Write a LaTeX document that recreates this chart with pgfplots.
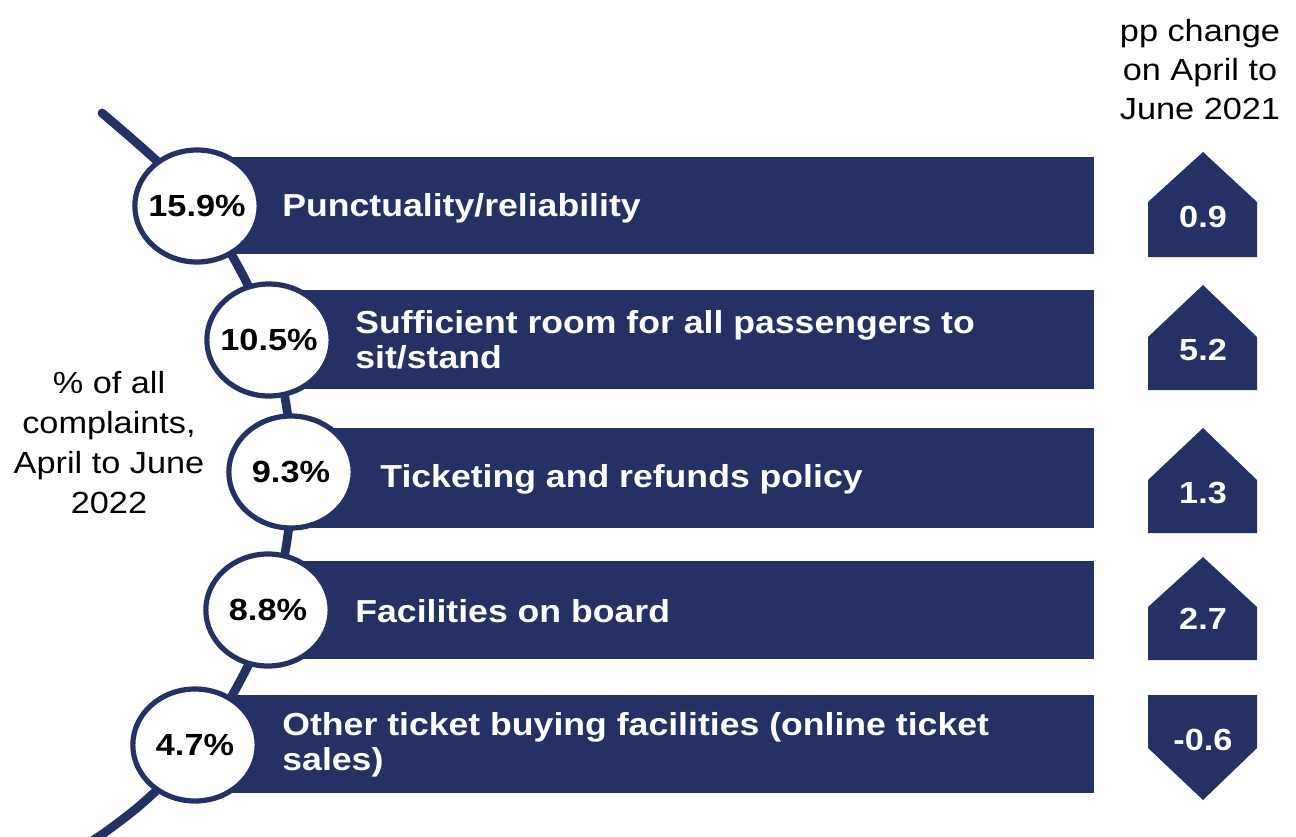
\documentclass[border=0pt]{standalone}
\usepackage{fontspec}
\setmainfont{Liberation Sans}[FakeStretch=1.12]
\usepackage{pgfplots}
\pgfplotsset{compat=1.18}
\definecolor{navy}{RGB}{37,49,101}
\begin{document}
\begin{tikzpicture}
\begin{axis}[
  x=0.5bp, y=0.5bp, y dir=reverse,
  xmin=0, xmax=1296, ymin=0, ymax=836,
  hide axis, clip=true,
]
\path[draw=none] (axis cs:0,0) rectangle (axis cs:1296,836);
% connecting curve
\addplot[navy, line width=4.4bp, line cap=round, smooth, mark=none] coordinates {
(102,113) (137.0,143.1) (164.9,168.6) (190.4,196.5) (213.5,226.6)
(233.8,258.5) (251.3,292.1) (265.8,327.1) (277.2,363.2) (285.4,400.2)
(290.4,437.7) (292,475.5) (290.4,513.3) (285.4,550.8) (277.2,587.8)
(265.8,623.9) (251.3,658.9) (233.8,692.5) (213.5,724.4) (190.4,754.5)
(164.9,782.4) (137.0,807.9) (106.9,831.0) (88.0,843.5)};
% bars
\addplot[fill=navy, draw=none] coordinates {(197,157) (1094,157) (1094,254) (197,254)} -- cycle;
\addplot[fill=navy, draw=none] coordinates {(269,290) (1094,290) (1094,389) (269,389)} -- cycle;
\addplot[fill=navy, draw=none] coordinates {(291,428) (1094,428) (1094,528) (291,528)} -- cycle;
\addplot[fill=navy, draw=none] coordinates {(268,561) (1094,561) (1094,659) (268,659)} -- cycle;
\addplot[fill=navy, draw=none] coordinates {(195,695) (1094,695) (1094,793) (195,793)} -- cycle;
% change arrows
\addplot[fill=navy, draw=none] coordinates {(1148,257) (1148,202) (1203,152) (1257,202) (1257,257)} -- cycle;
\addplot[fill=navy, draw=none] coordinates {(1148,390) (1148,337) (1203,285) (1257,337) (1257,390)} -- cycle;
\addplot[fill=navy, draw=none] coordinates {(1148,533) (1148,480) (1203,428) (1257,480) (1257,533)} -- cycle;
\addplot[fill=navy, draw=none] coordinates {(1148,660) (1148,607) (1203,557) (1257,607) (1257,660)} -- cycle;
\addplot[fill=navy, draw=none] coordinates {(1148,695) (1257,695) (1257,748) (1203,800) (1148,748)} -- cycle;
% circles with shares
\addplot[only marks, mark=*, mark size=28bp,
  mark options={xscale=1.11, fill=white, draw=navy, line width=2.6bp},
  nodes near coords, point meta=explicit symbolic,
  every node near coord/.append style={anchor=center, text=black,
    font=\bfseries\fontsize{15.3bp}{17.5bp}\selectfont}]
  coordinates {(197,206)[15.9\%] (269,340)[10.5\%] (291,472)[9.3\%] (268,610)[8.8\%] (195,745)[4.7\%]};
% change values
\addplot[only marks, mark=none,
  nodes near coords, point meta=explicit symbolic,
  every node near coord/.append style={anchor=center, text=white,
    font=\bfseries\fontsize{15.3bp}{17.5bp}\selectfont}]
  coordinates {(1203,217)[0.9] (1203,350)[5.2] (1203,493)[1.3] (1203,619)[2.7] (1203,740)[-0.6]};
% category labels
\begin{scope}[every node/.style={anchor=west, inner sep=0pt, text=white, align=left,
   font=\bfseries\fontsize{15.9bp}{17.6bp}\selectfont}]
\node at (axis cs:282,208) {Punctuality/reliability};
\node at (axis cs:355,340) {Sufficient room for all passengers to\\sit/stand};
\node at (axis cs:380,479) {Ticketing and refunds policy};
\node at (axis cs:355,611) {Facilities on board};
\node at (axis cs:282,745) {Other ticket buying facilities (online ticket\\sales)};
\end{scope}
\node[align=center, inner sep=0pt, font=\fontsize{15.3bp}{20bp}\selectfont]
  at (axis cs:109,443) {\% of all\\complaints,\\April to June\\2022};
\node[align=center, inner sep=0pt, font=\fontsize{15.3bp}{19.5bp}\selectfont]
  at (axis cs:1200,70) {pp change\\on April to\\June 2021};
\end{axis}
\end{tikzpicture}
\end{document}
